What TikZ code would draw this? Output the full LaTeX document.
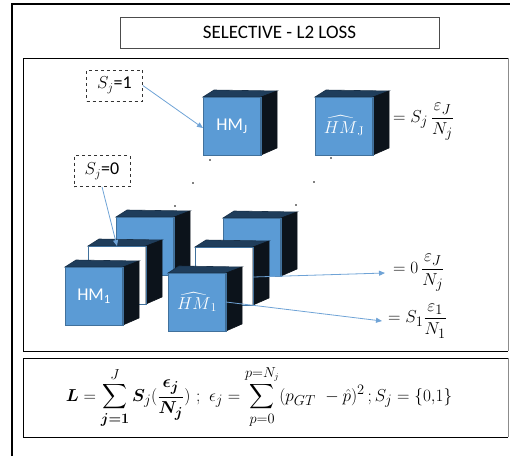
\documentclass[tikz,border=0pt]{standalone}
\usepackage{amsmath,bm}
\usepackage{fontspec}
\newfontfamily\calib{Carlito}
\usetikzlibrary{arrows.meta}
\definecolor{cubeblue}{HTML}{5B9BD5}
\definecolor{cubeedge}{HTML}{41719C}
\definecolor{cubetop}{HTML}{1F3D5B}
\definecolor{cubeside}{HTML}{0C131B}
\definecolor{linkblue}{HTML}{6FA3D6}

% one heat-map cube: name, x, y (top-left of the front face), front fill, label
\newcommand\heatcube[5]{%
  \node[cubeface, fill=#4, anchor=north west] (#1) at (#2,#3) {#5};
  \filldraw[cubetop, draw=cubetop!80!black, line width=0.6pt]
    (#1.north west) -- ([shift={(11,-7)}]#1.north west)
    -- ([shift={(16,-6)}]#1.north east) -- (#1.north east) -- cycle;
  \filldraw[cubeside, draw=cubeside, line width=0.6pt]
    (#1.north east) -- ([shift={(16,-6)}]#1.north east)
    -- ([shift={(16,-7)}]#1.south east) -- (#1.south east) -- cycle;
  \draw[cubeedge, line width=1pt] (#1.north west) rectangle (#1.south east);
}

\begin{document}
\begin{tikzpicture}[x=1pt, y=-1pt,
  cubeface/.style={rectangle, minimum width=58pt, minimum height=58pt,
    inner sep=0pt, outer sep=0pt, text=white, font=\calib\fontsize{18}{20}\selectfont},
  selbox/.style={draw=black!80, dashed, line width=0.7pt, minimum width=56pt,
    minimum height=31pt, inner sep=0pt, font=\fontsize{18}{20}\selectfont},
  link/.style={draw=linkblue, line width=0.8pt, -{Triangle[width=5pt,length=6pt]}},
  eqlabel/.style={anchor=west, inner sep=0pt, font=\fontsize{19}{23}\selectfont},
  dot/.style={circle, fill=black, inner sep=0pt, minimum size=1.8pt}]
\useasboundingbox (0,0) rectangle (510,456);

% outer frame
\draw[black, line width=1.3pt] (12,456) -- (12,4) -- (510,4);

% title
\node[draw=black!70, line width=1pt, minimum width=319pt, minimum height=31pt,
  inner sep=0pt, font=\calib\fontsize{19}{22}\selectfont] (title) at (279.5,32.5)
  {SELECTIVE - L2 LOSS};

% main panel
\draw[black, line width=1pt] (508,58) -- (23,58) -- (23,351) -- (508,351);
\draw[black!45, line width=1pt] (508,58) -- (508,351);

% formula panel
\draw[black, line width=1pt] (508,358) -- (23,358) -- (23,437) -- (508,437);
\draw[black!45, line width=1pt] (508,358) -- (508,437);

% top row of cubes
\heatcube{hmj}{203}{97}{cubeblue}{HM\textsubscript{J}}
\heatcube{hmjhat}{315}{97}{cubeblue}{$\widehat{HM}_{\mathrm{J}}$}
\node[eqlabel] (eqj) at (393,122) {$= S_j\,\dfrac{\varepsilon_J}{N_j}$};

% dots between the rows
\node[dot] (d1) at (210,160) {};
\node[dot] (d2) at (193,183) {};
\node[dot] (d3) at (175,206) {};
\node[dot] (d4) at (331,158) {};
\node[dot] (d5) at (314,182) {};
\node[dot] (d6) at (296,205) {};

% bottom stacks: back, middle (white), front
\heatcube{lback}{116}{217}{cubeblue}{}
\heatcube{rback}{223}{218}{cubeblue}{}
\heatcube{lmid}{88}{246}{white}{}
\heatcube{rmid}{195}{247}{white}{}
\heatcube{hm1}{65}{267}{cubeblue}{HM\textsubscript{1}}
\heatcube{hm1hat}{168}{273}{cubeblue}{$\widehat{HM}_1$}

\node[eqlabel] (eq0) at (393,273) {$= 0\,\dfrac{\varepsilon_J}{N_j}$};
\node[eqlabel] (eq1) at (388,321) {$= S_1\dfrac{\varepsilon_1}{N_1}$};

% selection flags
\node[selbox] (s1) at (114.5,85.5) {$S_j$\calib=1};
\node[selbox] (s0) at (102,171) {$S_j$\calib=0};

% connectors
\draw[link] (s1.east) -- ([yshift=-2pt]hmj.west);
\draw[link] (s0.south) -- ([xshift=29pt]lmid.north west);
\draw[link] ([yshift=-1pt]rmid.east) -- ([xshift=-8pt]eq0.west);
\draw[link] (hm1hat.east) -- ([xshift=-6pt]eq1.west);

% loss formula
\node[inner sep=0pt, font=\fontsize{19}{23}\selectfont] (loss) at (259,397)
  {$\displaystyle \bm{L} = \sum_{\bm{j=1}}^{J} \bm{S}_j(\frac{\bm{\epsilon}_{\bm{j}}}{\bm{N}_{\bm{j}}})\ ;\
   \epsilon_j = \sum_{p=0}^{p=N_j} (p_{GT}\ - \hat{p})^2\,; S_j = \{0{,}1\}$};
\end{tikzpicture}
\end{document}
